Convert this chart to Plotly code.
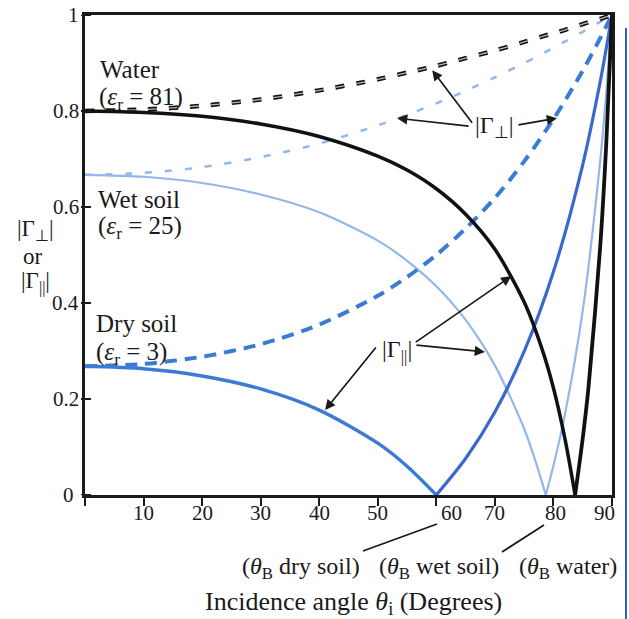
import plotly.graph_objects as go

# ---------------- data ----------------
dry_angles = [0, 10, 20, 30, 40, 50, 55, 60, 65, 70, 75, 80, 85, 88, 89, 90]
dry_perp = [0.268, 0.273, 0.288, 0.314, 0.355, 0.415, 0.454, 0.500, 0.555, 0.619,
            0.695, 0.783, 0.884, 0.952, 0.976, 1.0]
dry_par = [0.268, 0.263, 0.248, 0.221, 0.177, 0.108, 0.060, 0.0, 0.076, 0.173,
           0.299, 0.465, 0.688, 0.862, 0.929, 1.0]

wet_angles = [0, 10, 20, 30, 40, 50, 55, 60, 65, 70, 75, 77, 78.7, 80, 82, 85, 88, 89, 90]
wet_perp = [0.667, 0.671, 0.683, 0.704, 0.732, 0.770, 0.792, 0.816, 0.842, 0.870,
            0.900, 0.912, 0.923, 0.932, 0.945, 0.965, 0.986, 0.993, 1.0]
wet_par = [0.667, 0.663, 0.650, 0.626, 0.589, 0.530, 0.488, 0.435, 0.365, 0.270,
           0.138, 0.068, 0.0, 0.061, 0.170, 0.384, 0.698, 0.836, 1.0]

water_angles = [0, 10, 20, 30, 40, 50, 55, 60, 65, 70, 75, 78, 80, 82, 83.7, 85, 86, 88, 89, 90]
water_perp = [0.800, 0.803, 0.811, 0.824, 0.843, 0.866, 0.880, 0.894, 0.910, 0.926,
              0.944, 0.955, 0.962, 0.969, 0.976, 0.981, 0.985, 0.992, 0.996, 1.0]
water_par = [0.800, 0.797, 0.789, 0.773, 0.747, 0.706, 0.677, 0.638, 0.585, 0.512,
             0.402, 0.306, 0.223, 0.115, 0.0, 0.118, 0.226, 0.520, 0.727, 1.0]

x_ticks = [0, 10, 20, 30, 40, 50, 60, 70, 80, 90]
x_ticklabels = ["", "10", "20", "30", "40", "50", "60", "70", "80", "90"]
y_ticks = [0, 0.2, 0.4, 0.6, 0.8, 1.0]
y_ticklabels = ["0", "0.2", "0.4", "0.6", "0.8", "1"]

# ---------------- geometry (screen pixels, body margin removed) ----------------
W, H = 629, 619
SL, SR, ST, SB = 85, 612, 15, 495          # plot area edges
PW, PH = SR - SL, SB - ST
FONT = "Liberation Serif"
INK = "#1a1a1a"

def px(xs):
    return (xs - SL) / PW

def py(ys):
    return (SB - ys) / PH

fig = go.Figure()

def curve(x, y, color, width, dash="solid"):
    fig.add_trace(go.Scatter(
        x=x, y=y, mode="lines", hoverinfo="skip", showlegend=False,
        line=dict(color=color, width=width, dash=dash, shape="spline", smoothing=0.8)))

def split_zero(x, y):
    k = y.index(min(y))
    return (x[:k + 1], y[:k + 1]), (x[k:], y[k:])

WET = "#93b7e8"
DRY = "#3b7bd3"
DRY2 = "#3a68cd"
WATER = "#111111"

# wet soil
curve(wet_angles, wet_perp, WET, 2.5, "7px,13px")
(a, b), (c, d) = split_zero(wet_angles, wet_par)
curve(a, b, WET, 2.2)
curve(c, d, WET, 2.2)

# dry soil
curve(dry_angles, dry_perp, DRY, 4, "12px,8px")
(a, b), (c, d) = split_zero(dry_angles, dry_par)
curve(a, b, DRY, 3.5)
curve(c, d, DRY2, 3.2)

# water
curve(water_angles, water_perp, WATER, 4.5, "9px,12px")
curve(water_angles, water_perp, "#b5b5b5", 1.3, "9px,12px")
(a, b), (c, d) = split_zero(water_angles, water_par)
curve(a, b, WATER, 3.5)
curve(c, d, WATER, 3.8)

ann = []

def text(xs, ys, s, size=24, xanchor="center"):
    ann.append(dict(x=px(xs), y=py(ys), xref="paper", yref="paper", text=s,
                    showarrow=False, xanchor=xanchor, yanchor="middle",
                    font=dict(family=FONT, size=size, color=INK)))

# x tick labels
x_label_shift = {60: 2.6, 80: 0.3, 90: -1.2}
for v, s in zip(x_ticks, x_ticklabels):
    if s:
        ann.append(dict(x=v + x_label_shift.get(v, 0), y=py(513), xref="x", yref="paper",
                        text=s, showarrow=False, xanchor="center", yanchor="middle",
                        font=dict(family=FONT, size=21, color=INK)))

# y tick labels
y_label_right = {0: 76}
for v, s in zip(y_ticks, y_ticklabels):
    ann.append(dict(x=px(y_label_right.get(v, 81)), y=v, xref="paper", yref="y", text=s,
                    showarrow=False, xanchor="right", yanchor="middle",
                    font=dict(family=FONT, size=21, color=INK)))

# material labels
text(98, 69, "Water", size=25, xanchor="left")
text(97, 98, "(<i>ε</i><sub>r</sub> = 81)", size=25, xanchor="left")
text(96, 200, "Wet soil", size=25, xanchor="left")
text(96, 227, "(<i>ε</i><sub>r</sub> = 25)", size=25, xanchor="left")
text(94, 323, "Dry soil", size=25, xanchor="left")
text(94, 353, "(<i>ε</i><sub>r</sub> = 3)", size=25, xanchor="left")

# y axis title
text(35, 230, "|Γ<sub>⊥</sub>|", size=23)
text(33, 256, "or", size=23)
text(35, 282, "|Γ<sub>||</sub>|", size=23)

# x axis title and Brewster labels
text(354, 603, "Incidence angle <i>θ</i><sub>i</sub> (Degrees)", size=26)
text(301, 568, "(<i>θ</i><sub>B</sub> dry soil)", size=24)
text(439, 568, "(<i>θ</i><sub>B</sub> wet soil)", size=24)
text(568, 568, "(<i>θ</i><sub>B</sub> water)", size=24)

# curve labels
text(494, 127, "|Γ<sub>⊥</sub>|", size=24)
text(397, 351, "|Γ<sub>||</sub>|", size=24)

def arrow(x, y, ax, ay):
    ann.append(dict(x=x, y=y, xref="x", yref="y", ax=ax, ay=ay, text="",
                    showarrow=True, arrowhead=2, arrowsize=1.2, arrowwidth=1.7,
                    arrowcolor=INK, standoff=0, startstandoff=0))

# |Γ⊥| arrows
arrow(59.3, 0.885, 41, 54)
arrow(53.3, 0.785, 73, 8)
arrow(80.6, 0.785, -40, 7)
# |Γ||| arrows
arrow(72.8, 0.456, -97, 67)
arrow(68.3, 0.298, -70, -7)
arrow(41.0, 0.177, 52, -64)
# Brewster angle arrows below the axis
arrow(60.1, -0.004, 0, 27)
arrow(78.4, -0.004, 0, 27)
arrow(83.7, -0.004, 0, 53)

shapes = []
# leader lines from Brewster labels
shapes.append(dict(type="line", xref="paper", yref="paper", x0=px(363), y0=py(551),
                   x1=px(437), y1=py(524), line=dict(color=INK, width=1.8)))
shapes.append(dict(type="line", xref="paper", yref="paper", x0=px(502), y0=py(552),
                   x1=px(544), y1=py(525), line=dict(color=INK, width=1.8)))
# y ticks crossing the axis
for v in y_ticks:
    shapes.append(dict(type="line", xref="paper", yref="y", x0=-4 / PW, x1=6 / PW, y0=v, y1=v,
                       line=dict(color=INK, width=2)))
# blue page edge line at the right
shapes.append(dict(type="line", xref="paper", yref="paper", x0=px(626), x1=px(626),
                   y0=py(28), y1=py(619), line=dict(color="#2f5fc8", width=2)))

fig.update_layout(
    width=W, height=H,
    margin=dict(l=SL, r=W - SR, t=ST, b=H - SB, autoexpand=False),
    paper_bgcolor="white", plot_bgcolor="white",
    annotations=ann, shapes=shapes,
    xaxis=dict(range=[0, 90], tickvals=x_ticks, showticklabels=False, ticks="outside",
               ticklen=8, tickwidth=2, tickcolor=INK, showline=True, linewidth=2.5,
               linecolor=INK, mirror=True, showgrid=False, zeroline=False,
               automargin=False),
    yaxis=dict(range=[0, 1], tickvals=y_ticks, showticklabels=False, ticks="",
               showline=True, linewidth=2.5, linecolor=INK, mirror=True,
               showgrid=False, zeroline=False, automargin=False),
)

fig.write_html("out.html", config={"displayModeBar": False},
               post_script="document.body.style.margin='0';document.body.style.overflow='hidden';")
